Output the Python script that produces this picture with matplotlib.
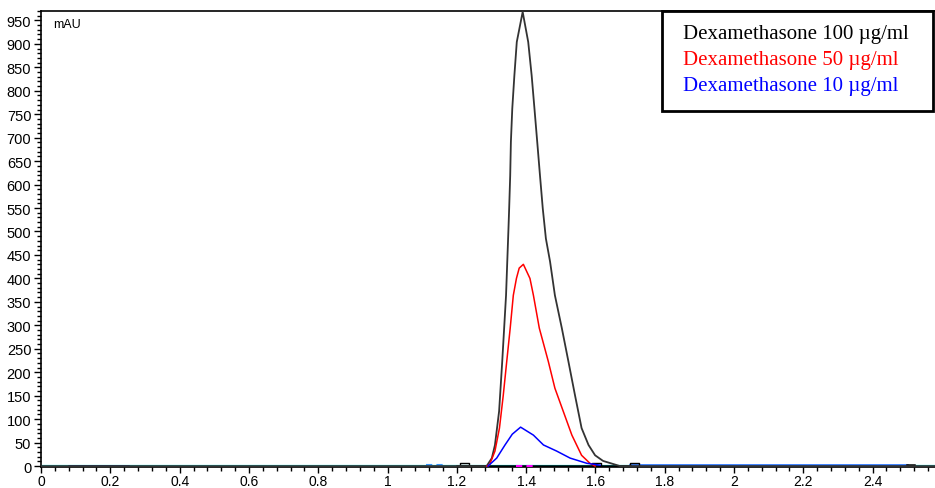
import numpy as np
import matplotlib
matplotlib.use("Agg")
import matplotlib.pyplot as plt
from matplotlib.ticker import MultipleLocator
from matplotlib.patches import Rectangle

# ------------------------------------
# Data (time in min, signal in mAU)
# ------------------------------------
t_100 = [0.0, 1.286, 1.301, 1.310, 1.322, 1.331, 1.342, 1.349, 1.351, 1.354, 1.356,
         1.360, 1.366, 1.373, 1.390, 1.406, 1.416, 1.424, 1.432, 1.440, 1.448,
         1.457, 1.469, 1.483, 1.503, 1.522, 1.541, 1.560, 1.580, 1.599, 1.622,
         1.671, 2.58]
y_100 = [0, 0, 17, 45, 117, 223, 364, 506, 549, 619, 691,
         762, 832, 904, 968, 904, 832, 762, 691, 619, 549,
         485, 436, 364, 294, 223, 151, 81, 45, 23, 11,
         0, 0]

t_50 = [1.287, 1.294, 1.310, 1.323, 1.334, 1.344, 1.354, 1.363, 1.372, 1.380, 1.392,
        1.411, 1.421, 1.438, 1.464, 1.483, 1.507, 1.532, 1.560, 1.584, 1.599]
y_50 = [0, 2, 32, 81, 151, 223, 294, 364, 400, 422, 430,
        400, 364, 294, 223, 166, 117, 66, 23, 6, 0]

t_10 = [1.290, 1.315, 1.339, 1.360, 1.384, 1.421, 1.450, 1.488, 1.527, 1.575, 1.613]
y_10 = [0, 17, 45, 68, 83, 66, 45, 32, 17, 6, 2]

legend_labels = ["Dexamethasone 100 \u00b5g/ml",
                 "Dexamethasone 50 \u00b5g/ml",
                 "Dexamethasone 10 \u00b5g/ml"]
legend_colors = ["black", "red", "blue"]

# ------------------------------------
# Figure
# ------------------------------------
plt.rcParams["font.family"] = ["Liberation Sans", "DejaVu Sans"]

fig = plt.figure(figsize=(9.35, 4.89), dpi=100)
ax = fig.add_axes([0.0439, 0.0429, 0.9561, 0.9326])

# baselines and integration marks
ax.plot([0, 2.58], [1, 1], color="#00e0e0", lw=1.6, zorder=1)
ax.plot([0.08, 0.25], [1, 1], color="#000080", lw=1.8, zorder=2)
ax.plot([1.11, 1.16], [3, 3], color="#3399ff", lw=1.5, ls=(0, (3, 2)), zorder=2)
ax.plot([1.70, 2.50], [2, 2], color="#1060ff", lw=1.8, zorder=2)
ax.plot([2.50, 2.52], [2, 2], color="black", lw=1.8, zorder=2)
ax.plot([1.20, 1.70], [0.5, 0.5], color="black", lw=1.8, zorder=3)
ax.plot([1.37, 1.42], [1, 1], color="magenta", lw=1.5, ls=(0, (3, 2)), zorder=3)
for x0 in [1.21, 1.59, 1.70]:
    ax.plot([x0, x0, x0 + 0.025, x0 + 0.025], [0, 7, 7, 0], color="black", lw=1.0, zorder=3)

ax.plot(t_100, y_100, color="#333333", lw=1.3, zorder=4)
ax.plot(t_50, y_50, color="red", lw=1.1, zorder=5)
ax.plot(t_10, y_10, color="blue", lw=1.1, zorder=6)

ax.set_xlim(0, 2.58)
ax.set_ylim(-2, 970)

ax.xaxis.set_major_locator(MultipleLocator(0.2))
ax.xaxis.set_minor_locator(MultipleLocator(0.04))
ax.yaxis.set_major_locator(MultipleLocator(50))
ax.yaxis.set_minor_locator(MultipleLocator(10))
ax.xaxis.set_major_formatter(plt.FuncFormatter(lambda v, p: f"{v:.1f}".rstrip("0").rstrip(".")))
ax.tick_params(axis="y", which="major", length=5, width=1, labelsize=10.5, direction="out", pad=2)
ax.tick_params(axis="x", which="major", length=4, width=1, labelsize=10, direction="out", pad=1)
ax.tick_params(axis="both", which="minor", length=3, width=1, direction="out")

ax.spines["right"].set_visible(False)
for s in ["left", "bottom", "top"]:
    ax.spines[s].set_linewidth(1.2)

ax.text(0.013, 0.985, "mAU", transform=ax.transAxes, fontsize=9, va="top", ha="left")

# legend box
ax.add_patch(Rectangle((0.695, 0.781), 0.303, 0.219, transform=ax.transAxes,
                       facecolor="white", edgecolor="black", lw=2, zorder=10, clip_on=False))
for i, (lab, col) in enumerate(zip(legend_labels, legend_colors)):
    ax.text(0.718, 0.950 - i * 0.057, lab, transform=ax.transAxes, color=col,
            fontsize=15, family=["Liberation Serif", "DejaVu Serif"],
            va="center", ha="left", zorder=11)

fig.savefig("out.png", dpi=100)
